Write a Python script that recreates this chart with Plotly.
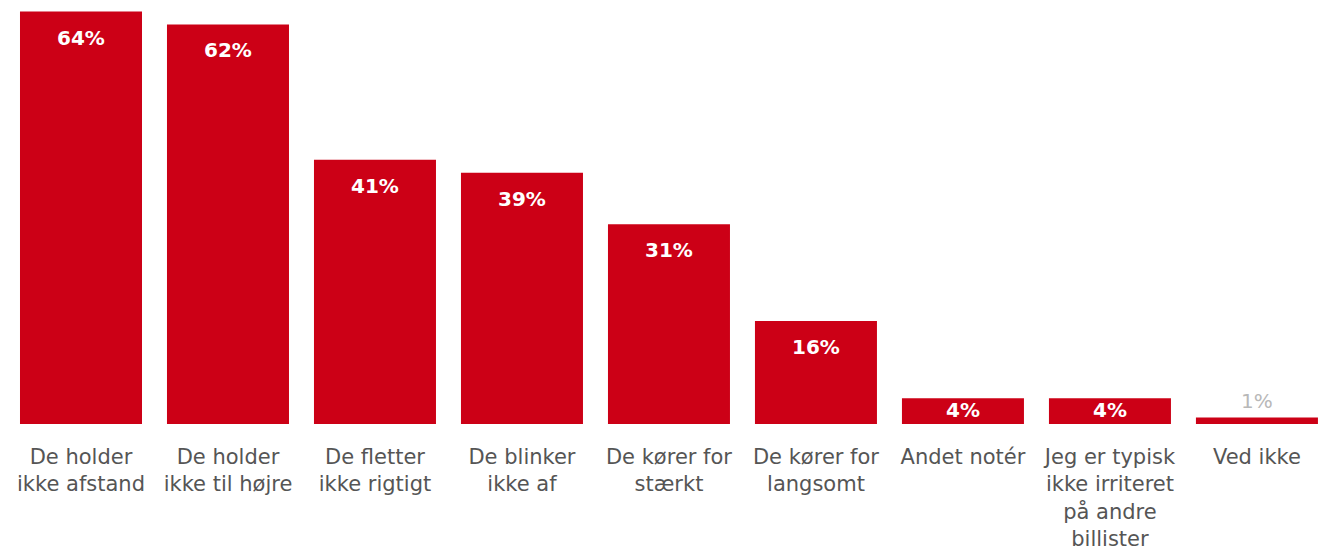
import plotly.graph_objects as go

categories = [
    "De holder<br>ikke afstand",
    "De holder<br>ikke til højre",
    "De fletter<br>ikke rigtigt",
    "De blinker<br>ikke af",
    "De kører for<br>stærkt",
    "De kører for<br>langsomt",
    "Andet notér",
    "Jeg er typisk<br>ikke irriteret<br>på andre<br>billister",
    "Ved ikke",
]
values = [64, 62, 41, 39, 31, 16, 4, 4, 1]
value_labels = ["64%", "62%", "41%", "39%", "31%", "16%", "4%", "4%", "1%"]

BAR_COLOR = "#CC0016"

fig = go.Figure()
fig.add_trace(go.Bar(
    x=list(range(len(categories))),
    y=values,
    marker=dict(color=BAR_COLOR, line=dict(width=0)),
    hoverinfo="skip",
))

annotations = []
for i, (v, lab) in enumerate(zip(values, value_labels)):
    if v >= 10:
        annotations.append(dict(x=i, y=v, text=lab, showarrow=False, yanchor="top", yshift=-12,
                                font=dict(family="DejaVu Sans", size=20, color="#FFFFFF", weight="bold")))
    elif v >= 2:
        annotations.append(dict(x=i, y=v, text=lab, showarrow=False, yanchor="middle", yshift=-12,
                                font=dict(family="DejaVu Sans", size=20, color="#FFFFFF", weight="bold")))
    else:
        annotations.append(dict(x=i, y=v, text=lab, showarrow=False, yanchor="bottom", yshift=3,
                                font=dict(family="DejaVu Sans", size=20, color="#B8B8B8")))

fig.update_layout(
    width=1325, height=551,
    margin=dict(l=0, r=0, t=0, b=127),
    paper_bgcolor="white", plot_bgcolor="white",
    bargap=0.17,
    showlegend=False,
    annotations=annotations,
    xaxis=dict(
        tickmode="array",
        tickvals=list(range(len(categories))),
        ticktext=categories,
        range=[-0.551, 8.463],
        showgrid=False, zeroline=False, showline=False,
        ticks="", tickangle=0,
        ticklabelstandoff=18,
        tickfont=dict(family="DejaVu Sans", size=21, color="#555555"),
    ),
    yaxis=dict(
        range=[0, 65.8],
        showgrid=False, zeroline=False, showline=False,
        showticklabels=False, ticks="",
    ),
)

fig.write_html("out.html")
